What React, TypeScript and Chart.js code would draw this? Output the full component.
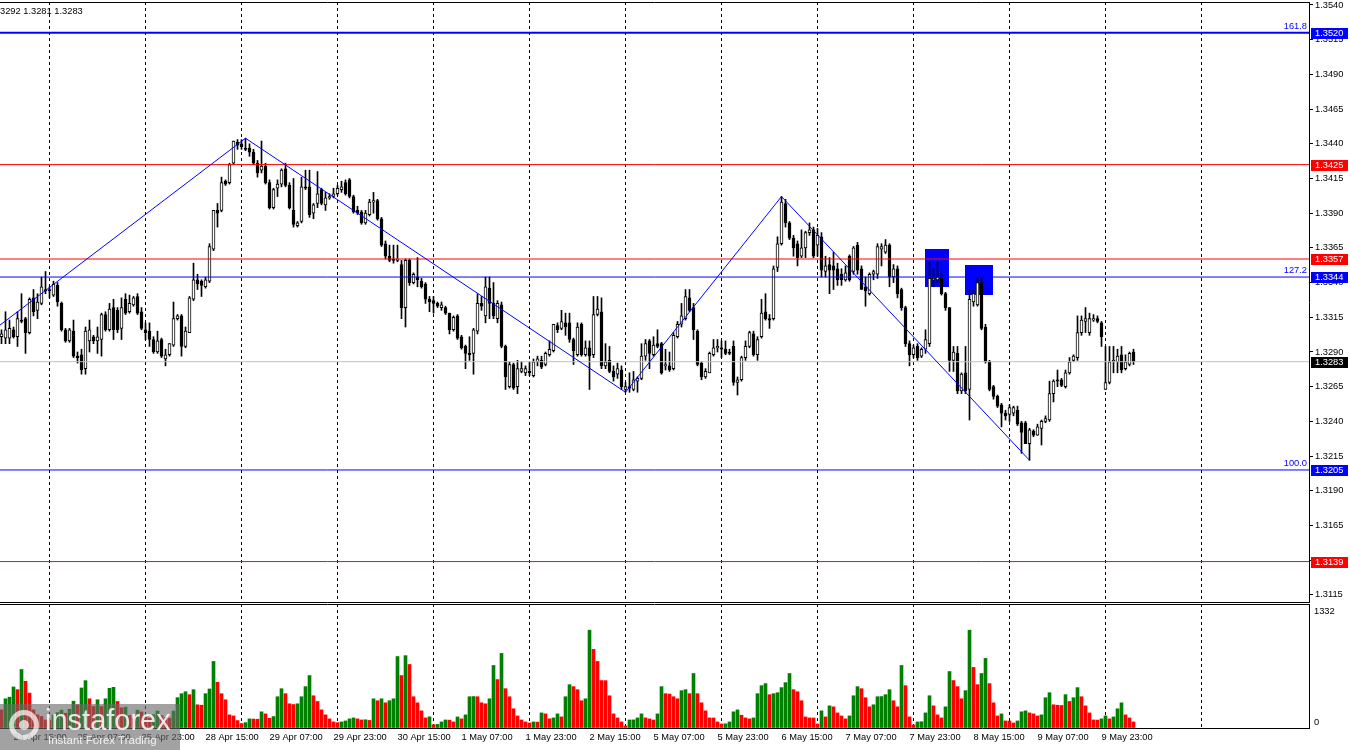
import React, { useEffect, useRef } from "react";
import { Chart, registerables } from "chart.js";

Chart.register(...registerables);

const FONT = "'Liberation Sans', Arial, sans-serif";

const opens = [
  1.3301,1.3300,1.3300,1.3306,1.3301,1.3313,1.3314,1.3304,1.3329,1.3320,
  1.3325,1.3335,1.3335,1.3331,1.3338,1.3325,1.3306,1.3298,1.3305,1.3287,
  1.3288,1.3278,1.3298,1.3301,1.3298,1.3299,1.3317,1.3306,1.3322,1.3320,
  1.3307,1.3328,1.3319,1.3324,1.3330,1.3319,1.3306,1.3305,1.3299,1.3290,
  1.3299,1.3285,1.3288,1.3295,1.3314,1.3316,1.3294,1.3304,1.3328,1.3342,
  1.3341,1.3337,1.3341,1.3364,1.3392,1.3392,1.3413,1.3412,1.3426,1.3441,
  1.3440,1.3437,1.3437,1.3434,1.3426,1.3421,1.3424,1.3412,1.3394,1.3408,
  1.3411,1.3422,1.3410,1.3392,1.3381,1.3384,1.3409,1.3409,1.3390,1.3397,
  1.3407,1.3396,1.3401,1.3402,1.3404,1.3407,1.3412,1.3414,1.3402,1.3392,
  1.3391,1.3383,1.3389,1.3398,1.3399,1.3386,1.3368,1.3359,1.3357,1.3356,
  1.3353,1.3322,1.3356,1.3340,1.3344,1.3341,1.3339,1.3328,1.3327,1.3325,
  1.3322,1.3322,1.3318,1.3306,1.3316,1.3301,1.3294,1.3289,1.3289,1.3305,
  1.3325,1.3316,1.3336,1.3325,1.3314,1.3324,1.3294,1.3265,1.3281,1.3265,
  1.3276,1.3275,1.3276,1.3273,1.3283,1.3284,1.3281,1.3288,1.3291,1.3309,
  1.3307,1.3311,1.3311,1.3299,1.3288,1.3310,1.3288,1.3293,1.3288,1.3317,
  1.3319,1.3280,1.3284,1.3276,1.3274,1.3277,1.3263,1.3265,1.3263,1.3269,
  1.3271,1.3287,1.3298,1.3288,1.3296,1.3296,1.3280,1.3280,1.3278,1.3301,
  1.3310,1.3314,1.3329,1.3322,1.3305,1.3282,1.3272,1.3275,1.3288,1.3293,
  1.3293,1.3292,1.3290,1.3294,1.3268,1.3270,1.3286,1.3294,1.3303,1.3288,
  1.3301,1.3319,1.3314,1.3314,1.3351,1.3368,1.3397,1.3383,1.3372,1.3368,
  1.3359,1.3365,1.3376,1.3378,1.3367,1.3373,1.3348,1.3353,1.3352,1.3350,
  1.3346,1.3342,1.3359,1.3348,1.3367,1.3350,1.3337,1.3332,1.3346,1.3346,
  1.3364,1.3362,1.3367,1.3344,1.3350,1.3335,1.3322,1.3296,1.3288,1.3294,
  1.3287,1.3292,1.3296,1.3342,1.3342,1.3344,1.3332,1.3322,1.3284,1.3289,
  1.3262,1.3275,1.3263,1.3326,1.3324,1.3340,1.3308,1.3283,1.3265,1.3258,
  1.3252,1.3246,1.3245,1.3246,1.3248,1.3239,1.3239,1.3224,1.3233,1.3230,
  1.3235,1.3240,1.3241,1.3260,1.3270,1.3270,1.3265,1.3275,1.3284,1.3286,
  1.3304,1.3312,1.3304,1.3313,1.3314,1.3311,1.3263,1.3268,1.3283,1.3283,
  1.3288,1.3278,1.3281,1.3290,
];

const highs = [
  1.3306,1.3319,1.3313,1.3308,1.3319,1.3332,1.3315,1.3329,1.3335,1.3332,
  1.3344,1.3348,1.3337,1.3341,1.3340,1.3326,1.3307,1.3307,1.3313,1.3290,
  1.3292,1.3308,1.3313,1.3302,1.3308,1.3318,1.3319,1.3325,1.3328,1.3322,
  1.3329,1.3332,1.3331,1.3330,1.3332,1.3322,1.3311,1.3311,1.3301,1.3305,
  1.3300,1.3292,1.3296,1.3326,1.3317,1.3317,1.3308,1.3330,1.3354,1.3346,
  1.3342,1.3344,1.3368,1.3392,1.3397,1.3416,1.3414,1.3426,1.3442,1.3443,
  1.3443,1.3444,1.3440,1.3436,1.3428,1.3442,1.3426,1.3414,1.3408,1.3414,
  1.3422,1.3426,1.3412,1.3415,1.3384,1.3416,1.3421,1.3421,1.3397,1.3420,
  1.3408,1.3405,1.3404,1.3408,1.3410,1.3413,1.3414,1.3415,1.3403,1.3395,
  1.3392,1.3392,1.3400,1.3405,1.3400,1.3387,1.3370,1.3367,1.3367,1.3367,
  1.3356,1.3357,1.3357,1.3347,1.3358,1.3343,1.3340,1.3330,1.3330,1.3326,
  1.3326,1.3323,1.3318,1.3316,1.3317,1.3302,1.3295,1.3301,1.3307,1.3332,
  1.3330,1.3344,1.3344,1.3340,1.3327,1.3326,1.3295,1.3283,1.3282,1.3284,
  1.3283,1.3280,1.3283,1.3285,1.3287,1.3287,1.3290,1.3298,1.3310,1.3311,
  1.3320,1.3318,1.3318,1.3300,1.3311,1.3311,1.3298,1.3298,1.3330,1.3330,
  1.3329,1.3296,1.3294,1.3280,1.3282,1.3280,1.3268,1.3275,1.3276,1.3272,
  1.3296,1.3299,1.3299,1.3301,1.3306,1.3297,1.3292,1.3290,1.3304,1.3312,
  1.3325,1.3335,1.3335,1.3325,1.3306,1.3283,1.3278,1.3290,1.3299,1.3299,
  1.3298,1.3298,1.3292,1.3298,1.3272,1.3287,1.3298,1.3305,1.3305,1.3301,
  1.3328,1.3332,1.3317,1.3352,1.3373,1.3402,1.3400,1.3384,1.3374,1.3370,
  1.3378,1.3377,1.3383,1.3380,1.3379,1.3376,1.3359,1.3358,1.3362,1.3354,
  1.3350,1.3352,1.3360,1.3366,1.3369,1.3352,1.3344,1.3347,1.3349,1.3368,
  1.3368,1.3371,1.3368,1.3353,1.3352,1.3336,1.3323,1.3298,1.3295,1.3296,
  1.3293,1.3306,1.3355,1.3350,1.3355,1.3347,1.3333,1.3322,1.3294,1.3294,
  1.3275,1.3294,1.3335,1.3335,1.3344,1.3344,1.3310,1.3284,1.3266,1.3259,
  1.3253,1.3248,1.3252,1.3251,1.3251,1.3240,1.3240,1.3235,1.3234,1.3238,
  1.3241,1.3244,1.3269,1.3270,1.3277,1.3271,1.3277,1.3286,1.3288,1.3316,
  1.3316,1.3322,1.3318,1.3317,1.3316,1.3312,1.3294,1.3294,1.3294,1.3292,
  1.3294,1.3288,1.3290,1.3292,
];

const lows = [
  1.3296,1.3296,1.3296,1.3300,1.3294,1.3311,1.3289,1.3303,1.3316,1.3314,
  1.3324,1.3332,1.3329,1.3330,1.3323,1.3305,1.3297,1.3297,1.3286,1.3282,
  1.3274,1.3274,1.3290,1.3296,1.3289,1.3287,1.3305,1.3305,1.3299,1.3304,
  1.3299,1.3317,1.3318,1.3323,1.3317,1.3306,1.3299,1.3294,1.3289,1.3289,
  1.3286,1.3280,1.3287,1.3294,1.3313,1.3287,1.3293,1.3304,1.3327,1.3335,
  1.3330,1.3336,1.3340,1.3363,1.3380,1.3391,1.3410,1.3411,1.3425,1.3436,
  1.3436,1.3435,1.3431,1.3425,1.3416,1.3419,1.3411,1.3393,1.3393,1.3402,
  1.3409,1.3409,1.3393,1.3380,1.3380,1.3383,1.3407,1.3387,1.3386,1.3394,
  1.3396,1.3392,1.3400,1.3401,1.3403,1.3405,1.3403,1.3401,1.3390,1.3389,
  1.3382,1.3382,1.3388,1.3390,1.3385,1.3366,1.3357,1.3355,1.3354,1.3355,
  1.3314,1.3308,1.3338,1.3339,1.3337,1.3336,1.3325,1.3319,1.3318,1.3322,
  1.3320,1.3317,1.3303,1.3305,1.3299,1.3292,1.3278,1.3284,1.3274,1.3303,
  1.3320,1.3311,1.3314,1.3314,1.3311,1.3293,1.3263,1.3264,1.3263,1.3260,
  1.3275,1.3273,1.3273,1.3272,1.3280,1.3278,1.3280,1.3287,1.3290,1.3304,
  1.3306,1.3302,1.3297,1.3281,1.3287,1.3287,1.3287,1.3263,1.3286,1.3316,
  1.3278,1.3278,1.3275,1.3269,1.3271,1.3263,1.3261,1.3261,1.3262,1.3261,
  1.3270,1.3284,1.3278,1.3287,1.3293,1.3274,1.3277,1.3276,1.3277,1.3300,
  1.3308,1.3313,1.3319,1.3299,1.3280,1.3270,1.3271,1.3275,1.3287,1.3290,
  1.3286,1.3288,1.3288,1.3266,1.3259,1.3269,1.3284,1.3293,1.3287,1.3284,
  1.3300,1.3313,1.3307,1.3313,1.3348,1.3367,1.3380,1.3371,1.3359,1.3352,
  1.3358,1.3358,1.3374,1.3358,1.3359,1.3344,1.3344,1.3332,1.3335,1.3338,
  1.3338,1.3341,1.3341,1.3346,1.3346,1.3335,1.3323,1.3331,1.3342,1.3343,
  1.3352,1.3361,1.3337,1.3340,1.3329,1.3320,1.3294,1.3280,1.3286,1.3284,
  1.3286,1.3289,1.3294,1.3337,1.3340,1.3331,1.3320,1.3276,1.3276,1.3260,
  1.3260,1.3260,1.3241,1.3323,1.3323,1.3306,1.3282,1.3262,1.3256,1.3250,
  1.3236,1.3241,1.3240,1.3244,1.3237,1.3217,1.3224,1.3212,1.3229,1.3230,
  1.3223,1.3239,1.3240,1.3254,1.3265,1.3265,1.3264,1.3274,1.3283,1.3284,
  1.3302,1.3304,1.3302,1.3312,1.3311,1.3294,1.3263,1.3267,1.3275,1.3275,
  1.3275,1.3277,1.3280,1.3281,
];

const closes = [
  1.3303,1.3306,1.3307,1.3301,1.3314,1.3312,1.3304,1.3328,1.3319,1.3326,
  1.3337,1.3334,1.3334,1.3339,1.3326,1.3306,1.3298,1.3306,1.3287,1.3286,
  1.3277,1.3305,1.3306,1.3298,1.3301,1.3317,1.3306,1.3321,1.3306,1.3306,
  1.3322,1.3318,1.3325,1.3329,1.3318,1.3307,1.3304,1.3299,1.3290,1.3298,
  1.3287,1.3288,1.3296,1.3314,1.3316,1.3294,1.3305,1.3329,1.3342,1.3339,
  1.3338,1.3342,1.3366,1.3392,1.3390,1.3412,1.3411,1.3425,1.3442,1.3439,
  1.3438,1.3436,1.3434,1.3426,1.3419,1.3424,1.3412,1.3394,1.3407,1.3411,
  1.3421,1.3410,1.3394,1.3382,1.3383,1.3409,1.3408,1.3389,1.3396,1.3404,
  1.3397,1.3401,1.3402,1.3404,1.3408,1.3409,1.3404,1.3402,1.3391,1.3390,
  1.3383,1.3390,1.3398,1.3399,1.3386,1.3367,1.3359,1.3356,1.3356,1.3357,
  1.3322,1.3356,1.3340,1.3346,1.3342,1.3337,1.3328,1.3326,1.3325,1.3323,
  1.3324,1.3318,1.3306,1.3315,1.3300,1.3293,1.3289,1.3288,1.3306,1.3325,
  1.3323,1.3337,1.3325,1.3316,1.3325,1.3294,1.3272,1.3281,1.3264,1.3278,
  1.3278,1.3278,1.3275,1.3283,1.3285,1.3279,1.3289,1.3292,1.3310,1.3306,
  1.3312,1.3308,1.3299,1.3291,1.3308,1.3288,1.3293,1.3287,1.3317,1.3321,
  1.3280,1.3283,1.3276,1.3272,1.3278,1.3265,1.3265,1.3264,1.3270,1.3271,
  1.3287,1.3296,1.3289,1.3295,1.3294,1.3275,1.3281,1.3277,1.3302,1.3310,
  1.3316,1.3330,1.3320,1.3306,1.3281,1.3272,1.3276,1.3289,1.3293,1.3294,
  1.3292,1.3289,1.3289,1.3268,1.3270,1.3286,1.3294,1.3304,1.3288,1.3299,
  1.3318,1.3314,1.3313,1.3350,1.3368,1.3398,1.3383,1.3372,1.3365,1.3358,
  1.3365,1.3376,1.3378,1.3359,1.3374,1.3349,1.3352,1.3349,1.3349,1.3342,
  1.3342,1.3347,1.3342,1.3365,1.3349,1.3335,1.3334,1.3346,1.3348,1.3366,
  1.3366,1.3367,1.3344,1.3350,1.3332,1.3322,1.3296,1.3288,1.3293,1.3286,
  1.3292,1.3299,1.3343,1.3343,1.3344,1.3332,1.3322,1.3284,1.3290,1.3262,
  1.3274,1.3262,1.3328,1.3332,1.3340,1.3307,1.3283,1.3263,1.3258,1.3251,
  1.3246,1.3244,1.3250,1.3250,1.3238,1.3232,1.3224,1.3234,1.3230,1.3236,
  1.3240,1.3242,1.3260,1.3269,1.3269,1.3266,1.3275,1.3283,1.3287,1.3304,
  1.3313,1.3314,1.3314,1.3314,1.3312,1.3301,1.3268,1.3283,1.3284,1.3287,
  1.3277,1.3283,1.3289,1.3283,
];

const volumes = [
  203,327,345,459,429,655,523,391,203,147,
  128,90,85,147,173,200,165,210,300,260,
  448,530,327,241,316,241,327,444,455,297,
  226,233,140,110,200,180,120,110,150,190,
  140,120,110,190,340,384,406,373,429,260,
  255,384,437,745,512,384,316,147,135,83,
  50,60,102,100,98,181,158,109,128,350,
  440,384,271,263,271,350,463,587,361,297,
  203,147,102,68,60,68,79,102,113,102,
  90,92,85,327,305,327,282,305,327,800,
  587,810,711,350,282,192,113,125,37,40,
  68,90,88,68,124,102,147,350,352,350,
  282,271,327,700,542,835,440,350,215,135,
  90,68,56,68,66,169,158,102,113,158,
  124,350,485,463,429,305,327,1095,880,745,
  531,530,361,158,113,68,23,90,91,113,
  158,113,102,90,158,463,384,380,350,327,
  418,429,384,610,384,282,192,113,112,68,
  45,47,68,181,203,143,113,102,113,384,
  474,497,373,384,395,452,508,610,429,406,
  305,124,113,112,45,192,124,248,237,169,
  135,102,135,361,463,440,339,237,260,350,
  352,373,429,305,237,700,474,124,34,68,
  70,169,361,248,147,113,237,632,531,463,
  327,418,1095,678,485,610,779,497,282,135,
  158,79,78,56,79,181,192,169,158,135,
  147,339,395,260,255,252,373,297,339,452,
  350,248,169,90,89,102,135,102,124,215,
  282,147,113,68,
];

const timeLabelBars = [3, 19, 35, 51, 67, 83, 99, 115, 131, 147, 163, 179, 195, 211, 227, 243, 259, 275];
const timeLabels = [
  "24 Apr 15:00", "25 Apr 07:00", "25 Apr 23:00", "28 Apr 15:00", "29 Apr 07:00", "29 Apr 23:00",
  "30 Apr 15:00", "1 May 07:00", "1 May 23:00", "2 May 15:00", "5 May 07:00", "5 May 23:00",
  "6 May 15:00", "7 May 07:00", "7 May 23:00", "8 May 15:00", "9 May 07:00", "9 May 23:00",
];
const gridBars = [12, 36, 60, 84, 108, 132, 156, 180, 204, 228, 252, 276, 300];

const priceTicks = [1.3540, 1.3515, 1.3490, 1.3465, 1.3440, 1.3415, 1.3390, 1.3365, 1.3340,
  1.3315, 1.3290, 1.3265, 1.3240, 1.3215, 1.3190, 1.3165, 1.3140, 1.3115];
const volumeTicks = [0, 1332];

const levelPrices = [1.3520, 1.3425, 1.3357, 1.3344, 1.3283, 1.3205, 1.3139];
const levelColors = ["#0000ff", "#ff0000", "#ff0000", "#0000ff", "#c0c0c0", "#0000ff", "#ff0000"];
const levelWidths = [2, 1, 1, 1, 1, 1, 1];
const levelLabelBg = ["#0000ff", "#ff0000", "#ff0000", "#0000ff", "#000000", "#0000ff", "#ff0000"];

const fibPrices = [1.3520, 1.3344, 1.3205];
const fibTexts = ["161.8", "127.2", "100.0"];

const zigBars = [-1, 61, 156, 195, 257];
const zigPrices = [1.3308, 1.3444, 1.3261, 1.3402, 1.3212];

const boxFrom = [230.875, 240.875];
const boxTo = [236.875, 247.875];
const boxTop = [1.3364, 1.3353];
const boxBottom = [1.3337, 1.3331];

const headerText = "1.3292 1.3281 1.3283";

const X_MIN = -0.375;
const X_MAX = 326.875;
const PRICE_MIN = 1.310988;
const PRICE_MAX = 1.354216;
const VOL_MAX = 1388;

const pricePlugin = {
  id: "priceOverlay",
  beforeDatasetsDraw(chart: any) {
    const { ctx, scales } = chart;
    const x = scales.x, y = scales.y;
    ctx.save();
    ctx.fillStyle = "#0000ff";
    boxFrom.forEach((b, k) => {
      const x0 = Math.round(x.getPixelForValue(b));
      const x1 = Math.round(x.getPixelForValue(boxTo[k]));
      const y0 = Math.round(y.getPixelForValue(boxTop[k]));
      const y1 = Math.round(y.getPixelForValue(boxBottom[k]));
      ctx.fillRect(x0, y0, x1 - x0, y1 - y0);
    });
    ctx.restore();
  },
  afterDraw(chart: any) {
    const { ctx, chartArea, scales } = chart;
    const y = scales.y;
    ctx.save();
    ctx.strokeStyle = "#000";
    ctx.lineWidth = 1;
    ctx.beginPath();
    ctx.moveTo(0, chartArea.top + 0.5);
    ctx.lineTo(chartArea.right, chartArea.top + 0.5);
    ctx.moveTo(0, chartArea.bottom + 0.5);
    ctx.lineTo(chartArea.right, chartArea.bottom + 0.5);
    ctx.stroke();

    ctx.font = `9.3px ${FONT}`;
    ctx.textBaseline = "middle";
    ctx.textAlign = "left";
    levelPrices.forEach((p, k) => {
      const py = Math.round(y.getPixelForValue(p));
      ctx.fillStyle = levelLabelBg[k];
      ctx.fillRect(y.left + 2, py - 5, 37, 11);
      ctx.fillStyle = "#ffffff";
      ctx.fillText(p.toFixed(4), y.left + 6, py + 0.5);
    });

    ctx.fillStyle = "#0000ff";
    ctx.textAlign = "right";
    ctx.textBaseline = "bottom";
    fibPrices.forEach((p, k) => {
      ctx.fillText(fibTexts[k], chartArea.right - 2, y.getPixelForValue(p) - 2);
    });

    ctx.fillStyle = "#000";
    ctx.textAlign = "left";
    ctx.textBaseline = "middle";
    ctx.fillText(headerText, -7.75, 11);
    ctx.restore();
  },
};

const volumePlugin = {
  id: "volumeOverlay",
  afterDraw(chart: any) {
    const { ctx, chartArea, scales } = chart;
    const y = scales.y;
    ctx.save();
    ctx.strokeStyle = "#000";
    ctx.lineWidth = 1;
    ctx.beginPath();
    ctx.moveTo(0, chartArea.top + 0.5);
    ctx.lineTo(chartArea.right, chartArea.top + 0.5);
    ctx.stroke();
    ctx.font = `9.3px ${FONT}`;
    ctx.fillStyle = "#000";
    ctx.textAlign = "left";
    ctx.textBaseline = "middle";
    volumeTicks.forEach((v) => {
      const py = Math.min(Math.max(y.getPixelForValue(v), chartArea.top + 7.5), chartArea.bottom - 5.5);
      ctx.fillText(String(v), y.left + 5, py);
    });
    ctx.restore();
  },
};

function priceConfig(): any {
  const wickData = highs.map((h, i) => ({ x: i, y: [lows[i], h] }));
  const bodyData = opens.map((o, i) => ({ x: i, y: [o, closes[i]] }));
  const bodyColors = opens.map((o, i) => (closes[i] > o ? "#ffffff" : "#000000"));
  const levelSets = levelPrices.map((p, k) => ({
    type: "line",
    data: [{ x: X_MIN, y: p }, { x: X_MAX, y: p }],
    borderColor: levelColors[k],
    borderWidth: levelWidths[k],
    pointRadius: 0,
    order: 2,
  }));
  return {
    type: "bar",
    data: {
      datasets: [
        {
          type: "bar",
          data: wickData,
          backgroundColor: "#000000",
          barThickness: 1,
          grouped: false,
          order: 5,
        },
        {
          type: "bar",
          data: bodyData,
          backgroundColor: bodyColors,
          borderColor: "#000000",
          borderWidth: 1,
          borderSkipped: false,
          barThickness: 3,
          minBarLength: 1,
          grouped: false,
          order: 4,
        },
        ...levelSets,
        {
          type: "line",
          data: zigBars.map((b, k) => ({ x: b, y: zigPrices[k] })),
          borderColor: "#0000ff",
          borderWidth: 1,
          pointRadius: 0,
          tension: 0,
          order: 1,
        },
      ],
    },
    options: {
      responsive: false,
      maintainAspectRatio: false,
      devicePixelRatio: 1,
      animation: false,
      events: [],
      layout: { padding: { top: 2, bottom: 1, left: 0, right: 0 } },
      plugins: { legend: { display: false }, tooltip: { enabled: false } },
      scales: {
        x: {
          type: "linear",
          min: X_MIN,
          max: X_MAX,
          offset: false,
          afterBuildTicks: (s: any) => { s.ticks = gridBars.map((v) => ({ value: v })); },
          afterFit: (s: any) => { s.height = 0; s.paddingLeft = 0; s.paddingRight = 0; },
          ticks: { display: false },
          grid: { color: "#000000", drawTicks: false, offset: false, lineWidth: 1 },
          border: { display: false, dash: [3, 3] },
        },
        y: {
          type: "linear",
          position: "right",
          min: PRICE_MIN,
          max: PRICE_MAX,
          afterBuildTicks: (s: any) => { s.ticks = priceTicks.map((v) => ({ value: v })); },
          afterFit: (s: any) => { s.width = 41; s.paddingTop = 0; s.paddingBottom = 0; },
          ticks: {
            autoSkip: false,
            color: "#000000",
            padding: 2,
            font: { family: FONT, size: 9.3 },
            callback: (v: any) => Number(v).toFixed(4),
          },
          grid: { drawOnChartArea: false, drawTicks: true, tickLength: 4, color: "#000000" },
          border: { display: true, color: "#000000" },
        },
      },
    },
    plugins: [pricePlugin],
  };
}

function volumeConfig(): any {
  const volColors = volumes.map((v, i) => (i > 0 && v > volumes[i - 1] ? "#008000" : "#ff0000"));
  return {
    type: "bar",
    data: {
      datasets: [
        {
          type: "bar",
          xAxisID: "x",
          yAxisID: "y",
          data: volumes.map((v, i) => ({ x: i, y: v })),
          backgroundColor: volColors,
          barThickness: 3,
          grouped: false,
        },
      ],
    },
    options: {
      responsive: false,
      maintainAspectRatio: false,
      devicePixelRatio: 1,
      animation: false,
      events: [],
      layout: { padding: { top: 1, bottom: 0, left: 0, right: 0 } },
      plugins: { legend: { display: false }, tooltip: { enabled: false } },
      scales: {
        x: {
          type: "linear",
          axis: "x",
          position: "bottom",
          min: X_MIN,
          max: X_MAX,
          offset: false,
          afterBuildTicks: (s: any) => { s.ticks = timeLabelBars.map((v) => ({ value: v })); },
          afterFit: (s: any) => { s.height = 22; s.paddingLeft = 0; s.paddingRight = 0; },
          ticks: {
            autoSkip: false,
            maxRotation: 0,
            minRotation: 0,
            align: "start",
            padding: 4,
            color: "#000000",
            font: { family: FONT, size: 9.3 },
            callback: (_v: any, idx: number) => timeLabels[idx],
          },
          grid: { display: false, drawTicks: false, offset: false },
          border: { display: true, color: "#000000" },
        },
        xg: {
          type: "linear",
          axis: "x",
          position: "bottom",
          min: X_MIN,
          max: X_MAX,
          offset: false,
          afterBuildTicks: (s: any) => { s.ticks = gridBars.map((v) => ({ value: v })); },
          afterFit: (s: any) => { s.height = 0; s.paddingLeft = 0; s.paddingRight = 0; },
          ticks: { display: false },
          grid: { color: "#000000", drawTicks: false, offset: false, lineWidth: 1 },
          border: { display: false, dash: [3, 3] },
        },
        y: {
          type: "linear",
          position: "right",
          min: 0,
          max: VOL_MAX,
          afterBuildTicks: (s: any) => { s.ticks = volumeTicks.map((v) => ({ value: v })); },
          afterFit: (s: any) => { s.width = 41; s.paddingTop = 0; s.paddingBottom = 0; },
          ticks: { display: false },
          grid: { drawOnChartArea: false, drawTicks: false, color: "#000000" },
          border: { display: true, color: "#000000" },
        },
      },
    },
    plugins: [volumePlugin],
  };
}

export default function App() {
  const priceRef = useRef<HTMLCanvasElement | null>(null);
  const volRef = useRef<HTMLCanvasElement | null>(null);

  useEffect(() => {
    const prev = document.body.style.margin;
    document.body.style.margin = "0";
    const pc = new Chart(priceRef.current as HTMLCanvasElement, priceConfig());
    const vc = new Chart(volRef.current as HTMLCanvasElement, volumeConfig());
    return () => {
      pc.destroy();
      vc.destroy();
      document.body.style.margin = prev;
    };
  }, []);

  return (
    <div style={{ position: "fixed", left: 0, top: 0, width: 1350, height: 750, background: "#ffffff", overflow: "hidden" }}>
      <canvas ref={priceRef} width={1350} height={603} style={{ position: "absolute", left: 0, top: 0, width: 1350, height: 603 }} />
      <canvas ref={volRef} width={1350} height={147} style={{ position: "absolute", left: 0, top: 603, width: 1350, height: 147 }} />
      <div style={{ position: "absolute", left: 0, top: 704, width: 180, height: 46, background: "rgba(105,105,105,0.62)", overflow: "hidden" }}>
        <div style={{ position: "absolute", left: 9, top: 6, width: 30, height: 30, borderRadius: "50%", border: "5px solid rgba(255,255,255,0.7)", boxSizing: "border-box" }} />
        <div style={{ position: "absolute", left: 19, top: 16, width: 10, height: 10, borderRadius: "50%", background: "rgba(255,255,255,0.7)" }} />
        <div style={{ position: "absolute", left: 45, top: 2, fontFamily: FONT, fontSize: 29, lineHeight: 1, color: "rgba(255,255,255,0.85)", whiteSpace: "nowrap" }}>instaforex</div>
        <div style={{ position: "absolute", left: 48, top: 31, fontFamily: FONT, fontSize: 11.5, lineHeight: 1, color: "rgba(255,255,255,0.85)", whiteSpace: "nowrap" }}>Instant Forex Trading</div>
      </div>
    </div>
  );
}
